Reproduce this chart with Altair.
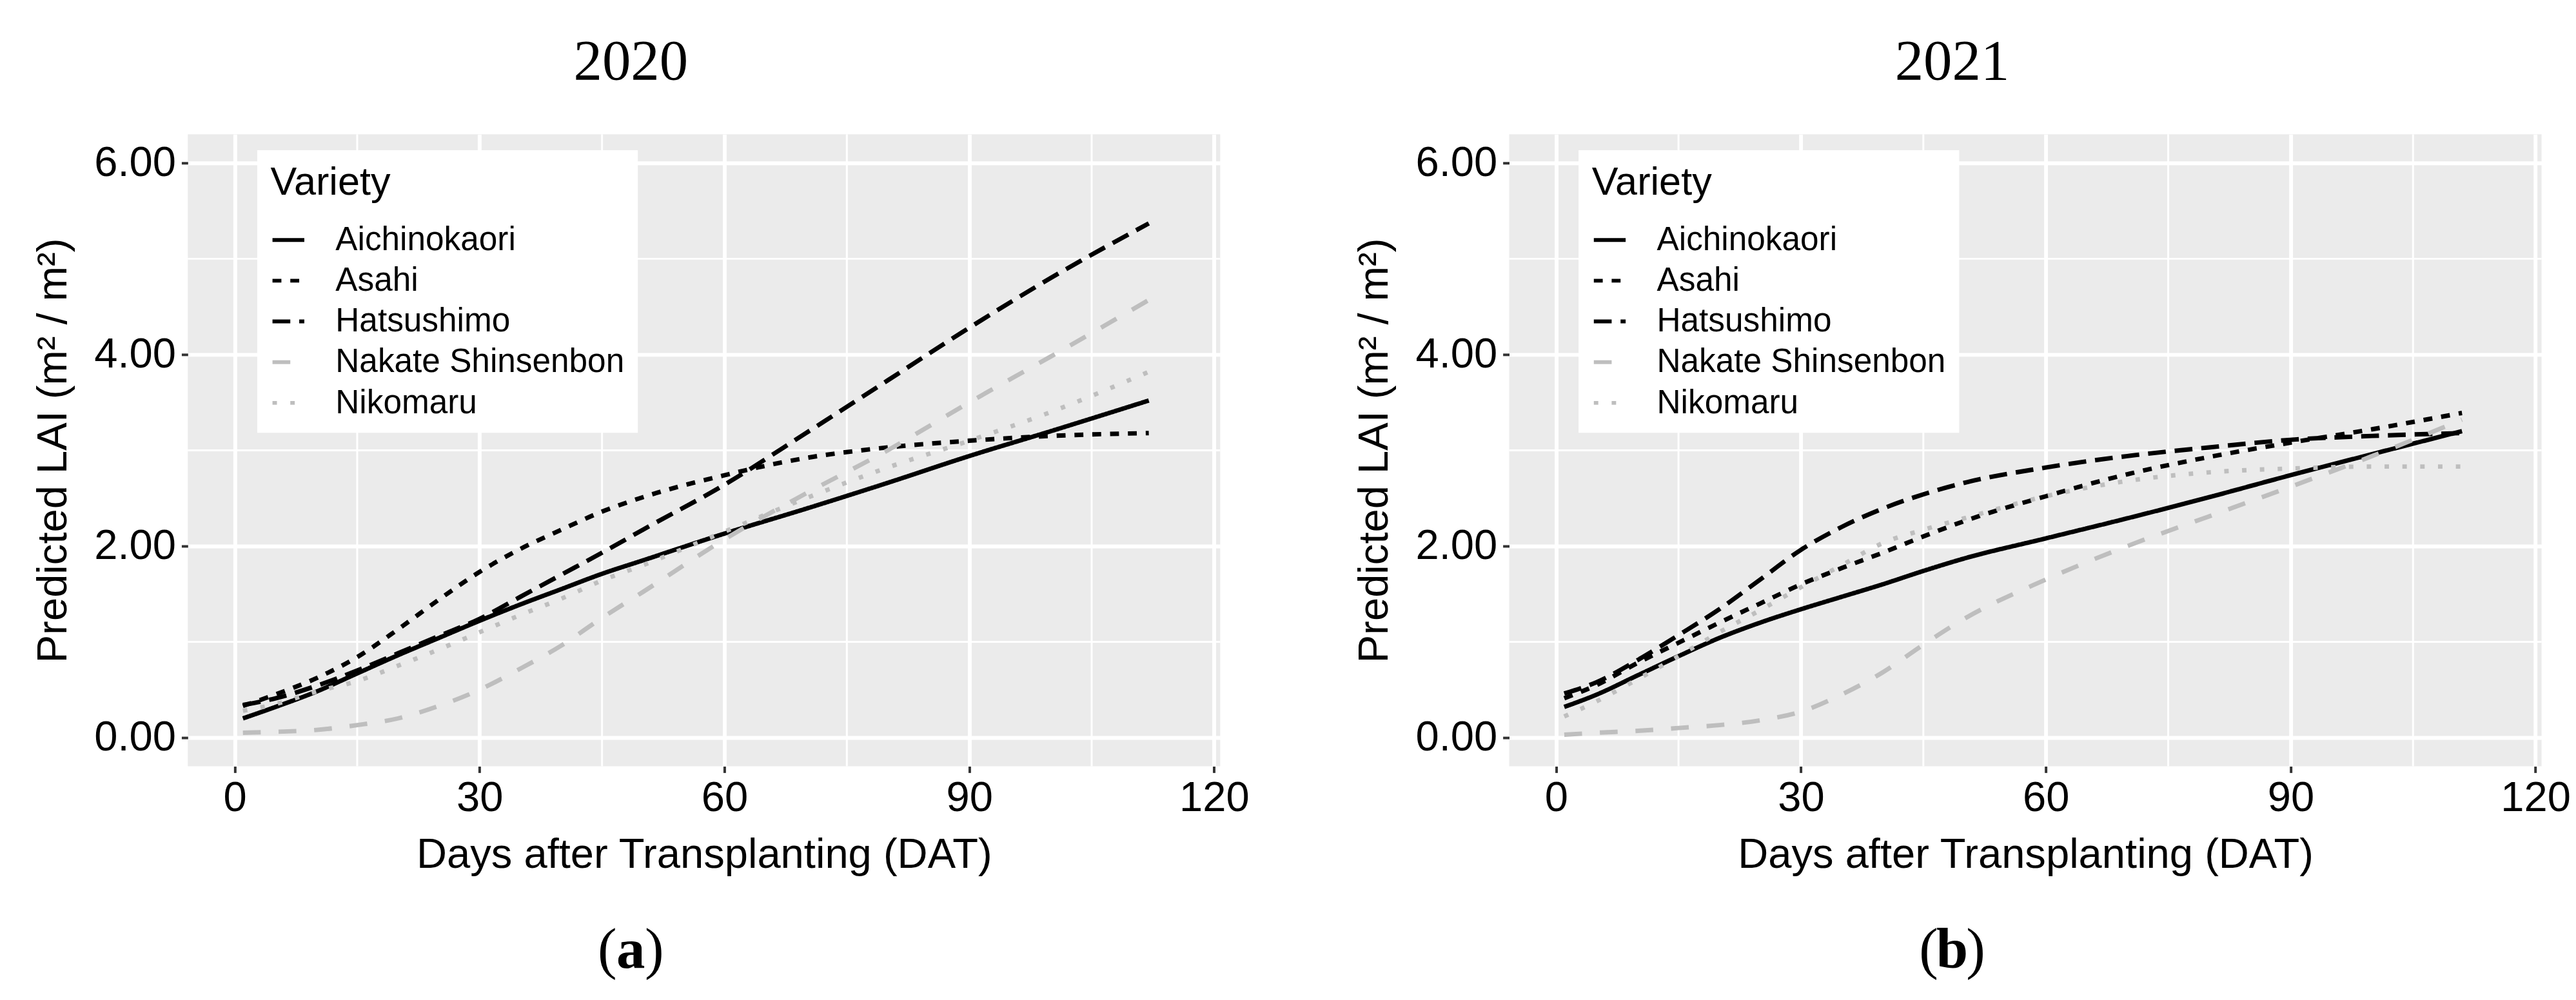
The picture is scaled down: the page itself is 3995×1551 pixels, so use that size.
import altair as alt
import pandas as pd

VARIETIES = ["Aichinokaori", "Asahi", "Hatsushimo", "Nakate Shinsenbon", "Nikomaru"]
COLORS = ["#000000", "#000000", "#000000", "#BEBEBE", "#BEBEBE"]
DASHES = [[1, 0], [14, 14], [28, 14], [28, 28], [7, 21]]

X_TICKS = [0, 30, 60, 90, 120]
Y_TICKS = [0, 2, 4, 6]
X_MINOR = [15, 45, 75, 105]
Y_MINOR = [1, 3, 5]

X_TITLE = "Days after Transplanting (DAT)"
Y_TITLE = "Predicted LAI (m\u00b2 / m\u00b2)"

# ---- 2020 (a) ----
DAYS_2020 = [1, 5, 10, 15, 20, 25, 30, 35, 40, 45, 50, 60, 70, 80, 90, 100, 112]
LAI_2020 = {
    "Aichinokaori":      [0.20, 0.32, 0.48, 0.67, 0.86, 1.04, 1.22, 1.39, 1.55, 1.71, 1.85, 2.13, 2.39, 2.66, 2.94, 3.20, 3.52],
    "Asahi":             [0.33, 0.45, 0.62, 0.84, 1.13, 1.44, 1.73, 1.97, 2.17, 2.36, 2.51, 2.74, 2.92, 3.03, 3.10, 3.15, 3.18],
    "Hatsushimo":        [0.34, 0.41, 0.54, 0.70, 0.88, 1.06, 1.24, 1.47, 1.70, 1.93, 2.17, 2.64, 3.18, 3.73, 4.28, 4.80, 5.37],
    "Nakate Shinsenbon": [0.05, 0.06, 0.08, 0.13, 0.20, 0.33, 0.50, 0.72, 0.96, 1.25, 1.52, 2.07, 2.55, 3.00, 3.50, 3.98, 4.57],
    "Nikomaru":          [0.28, 0.35, 0.48, 0.59, 0.75, 0.92, 1.10, 1.28, 1.45, 1.64, 1.80, 2.15, 2.50, 2.82, 3.10, 3.40, 3.82],
}

# ---- 2021 (b) ----
DAYS_2021 = [1, 5, 10, 15, 20, 25, 30, 35, 40, 45, 50, 60, 70, 80, 90, 100, 111]
LAI_2021 = {
    "Aichinokaori":      [0.32, 0.45, 0.65, 0.85, 1.04, 1.20, 1.34, 1.47, 1.60, 1.74, 1.87, 2.08, 2.29, 2.51, 2.74, 2.96, 3.20],
    "Asahi":             [0.41, 0.55, 0.78, 0.99, 1.20, 1.40, 1.60, 1.77, 1.93, 2.10, 2.26, 2.52, 2.75, 2.93, 3.08, 3.22, 3.39],
    "Hatsushimo":        [0.46, 0.58, 0.81, 1.07, 1.34, 1.65, 1.96, 2.20, 2.39, 2.54, 2.66, 2.82, 2.94, 3.03, 3.11, 3.15, 3.18],
    "Nakate Shinsenbon": [0.03, 0.05, 0.07, 0.10, 0.13, 0.18, 0.27, 0.45, 0.68, 0.97, 1.24, 1.65, 2.00, 2.31, 2.62, 2.94, 3.32],
    "Nikomaru":          [0.22, 0.38, 0.61, 0.85, 1.10, 1.33, 1.57, 1.80, 2.03, 2.17, 2.29, 2.52, 2.68, 2.77, 2.81, 2.83, 2.83],
}

PLOT_W = 1622
PLOT_H = 993


def panel(year, tag, days, series):
    rows = []
    for v in VARIETIES:
        for d, val in zip(days, series[v]):
            rows.append({"day": d, "lai": val, "variety": v})
    df = pd.DataFrame(rows)

    xs = alt.Scale(domain=[-5.75, 120.75], nice=False, zero=False)
    ys = alt.Scale(domain=[-0.3, 6.3], nice=False, zero=False)
    xaxis = alt.Axis(values=X_TICKS, format="d", title=X_TITLE)
    yaxis = alt.Axis(values=Y_TICKS, format=".2f", title=Y_TITLE)

    minor_x = alt.Chart(pd.DataFrame({"v": X_MINOR})).mark_rule(
        color="white", strokeWidth=3
    ).encode(x=alt.X("v:Q", scale=xs, axis=xaxis))
    minor_y = alt.Chart(pd.DataFrame({"v": Y_MINOR})).mark_rule(
        color="white", strokeWidth=3
    ).encode(y=alt.Y("v:Q", scale=ys, axis=yaxis))

    leg = alt.Legend(
        orient="none", legendX=109, legendY=25, fillColor="white",
        padding=21, title="Variety", titleFontSize=62, titleFontWeight="normal",
        titleColor="black", titleLimit=1000, labelFontSize=52, labelColor="black",
        titlePadding=30, rowPadding=10, symbolSize=2500, symbolStrokeWidth=6,
        labelOffset=46, labelLimit=1000, symbolType="stroke",
    )

    lines = alt.Chart(df).mark_line(strokeWidth=7, interpolate="monotone").encode(
        x=alt.X("day:Q", scale=xs, axis=xaxis),
        y=alt.Y("lai:Q", scale=ys, axis=yaxis),
        color=alt.Color("variety:N", scale=alt.Scale(domain=VARIETIES, range=COLORS), legend=leg),
        strokeDash=alt.StrokeDash("variety:N", scale=alt.Scale(domain=VARIETIES, range=DASHES), legend=leg),
    )

    def txt(t, x, y, size, weight="normal", align="center"):
        return alt.Chart(pd.DataFrame({"t": [t]})).mark_text(
            font="Liberation Serif", fontSize=size, fontWeight=weight,
            align=align, baseline="alphabetic", color="black",
        ).encode(text="t:N", x=alt.value(x), y=alt.value(y))

    cx = 696
    layers = [
        minor_x, minor_y, lines,
        txt(year, cx, -86, 90),
        txt("(", cx - 22, 1310, 90, align="right"),
        txt(tag, cx, 1310, 90, weight="bold"),
        txt(")", cx + 22, 1310, 90, align="left"),
    ]
    return alt.layer(*layers).properties(width=PLOT_W, height=PLOT_H)


left = panel("2020", "a", DAYS_2020, LAI_2020)
right = panel("2021", "b", DAYS_2021, LAI_2021)

chart = (
    alt.hconcat(left, right, spacing=163)
    .resolve_scale(color="independent", strokeDash="independent")
    .properties(padding={"left": 42, "top": 35, "right": 0, "bottom": 0})
    .configure(font="Liberation Sans")
    .configure_view(fill="#EBEBEB", stroke=None)
    .configure_axis(
        domain=False, grid=True, gridColor="white", gridWidth=6,
        labelFontSize=66, labelColor="black", labelFont="Liberation Sans",
        tickColor="#333333", tickSize=10, tickWidth=4,
        titleFontSize=66, titleFontWeight="normal", titleColor="black",
        titleFont="Liberation Sans",
    )
    .configure_axisX(labelPadding=8, titlePadding=24)
    .configure_axisY(labelPadding=9, titlePadding=30)
)

chart.save("out.html", embed_options={"renderer": "svg", "actions": False})
